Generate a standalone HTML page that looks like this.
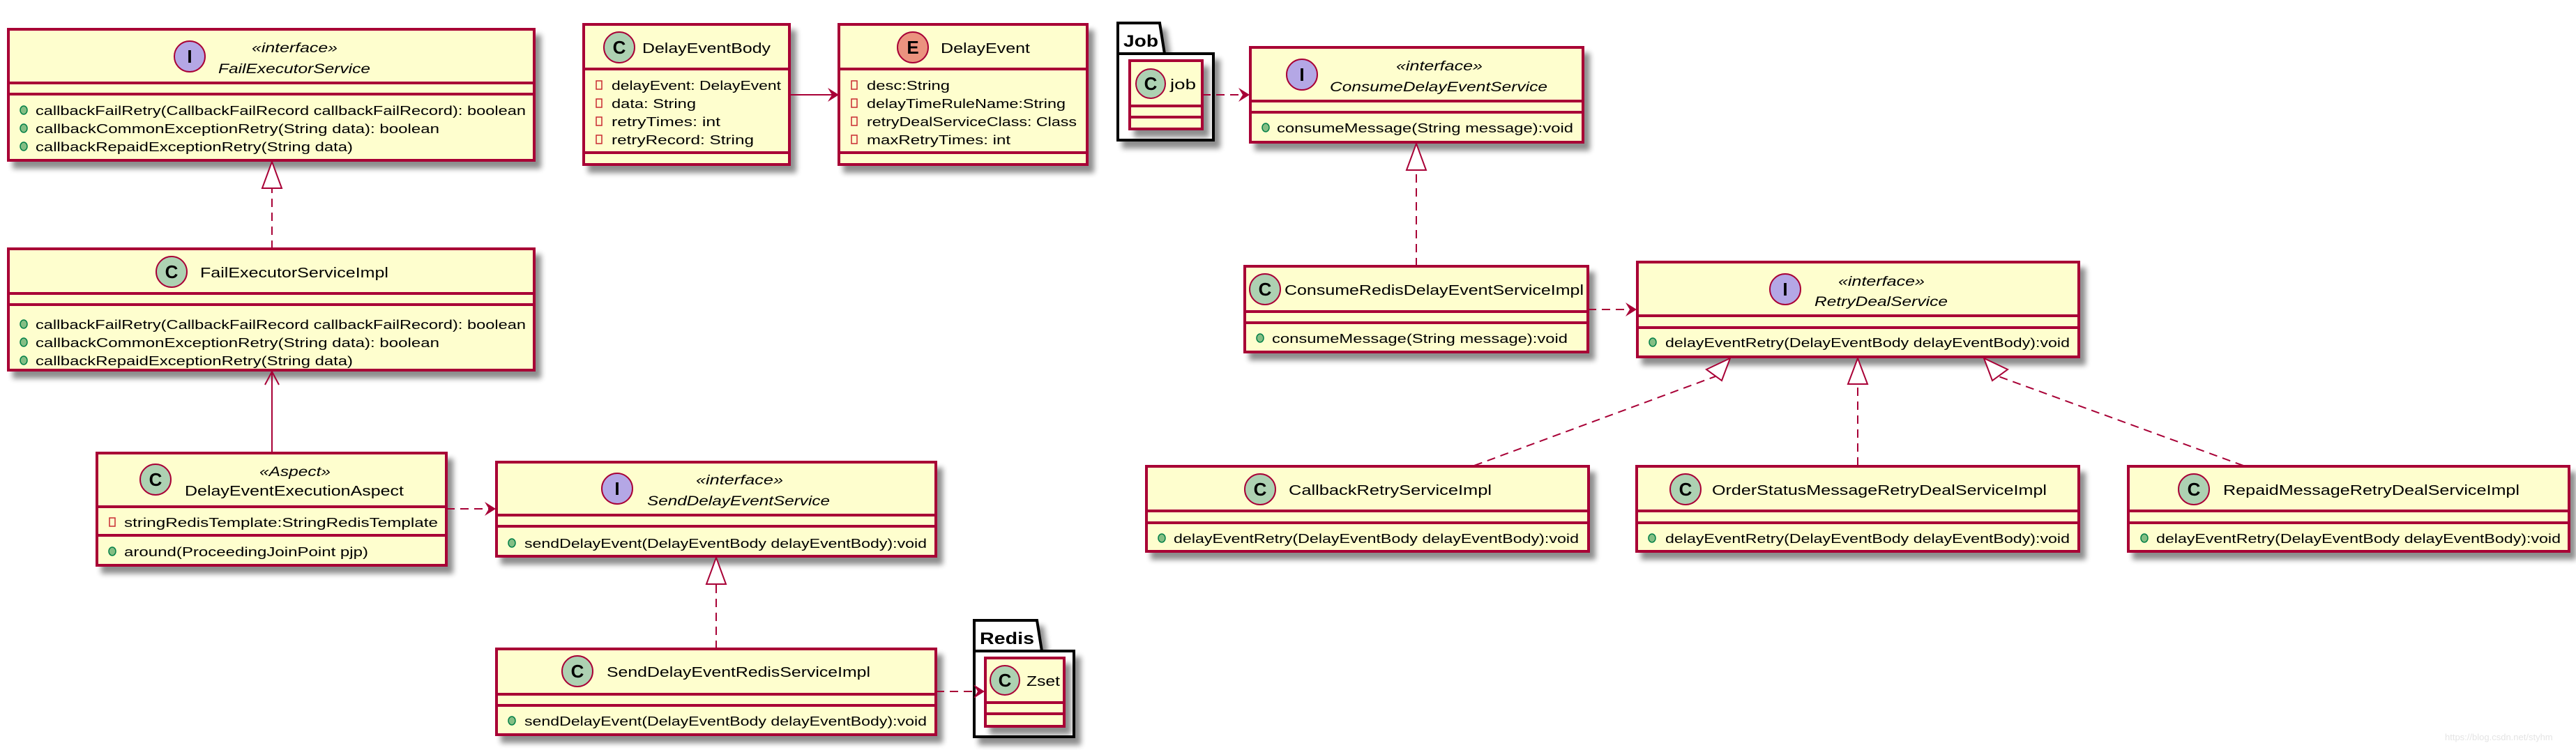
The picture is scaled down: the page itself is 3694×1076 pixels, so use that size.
<!DOCTYPE html>
<html><head><meta charset="utf-8"><style>
html,body{margin:0;padding:0;background:#fff;}
svg{display:block;}
text{font-family:"Liberation Sans",sans-serif;fill:#000;}
.m{font-size:18px;}
.n{font-size:20px;}
.s{font-size:19px;font-style:italic;}
.b{fill:#FEFECE;stroke:#A80036;stroke-width:4;}
.l{stroke:#A80036;stroke-width:4;}
.c{stroke:#A80036;stroke-width:2;fill:none;}
.d{stroke:#A80036;stroke-width:2;fill:none;stroke-dasharray:12,8;}
.ic{stroke:#A80036;stroke-width:2;}
.lt{font-size:26px;font-weight:bold;font-family:"Liberation Mono",monospace;}
.pub{fill:#84BE84;stroke:#038048;stroke-width:1.5;}
.pri{fill:none;stroke:#C82930;stroke-width:1.5;}
</style></head><body>
<svg width="3694" height="1076" viewBox="0 0 3694 1076" xmlns="http://www.w3.org/2000/svg">
<defs>
<filter id="sh" x="-5%" y="-5%" width="115%" height="130%">
<feGaussianBlur in="SourceAlpha" stdDeviation="4"/>
<feOffset dx="8" dy="10" result="o"/>
<feComponentTransfer><feFuncA type="linear" slope="0.45"/></feComponentTransfer>
<feMerge><feMergeNode/><feMergeNode in="SourceGraphic"/></feMerge>
</filter>
</defs>

<!-- Packages -->
<g filter="url(#sh)">
<path d="M1603,77 L1603,33 L1663,33 L1670,77 Z" fill="#fff" stroke="#000" stroke-width="4"/>
<rect x="1603" y="77" width="137" height="124" fill="#fff" stroke="#000" stroke-width="4"/>
<path d="M1397,934 L1397,890 L1487,890 L1494,934 Z" fill="#fff" stroke="#000" stroke-width="4"/>
<rect x="1397" y="934" width="143" height="123" fill="#fff" stroke="#000" stroke-width="4"/>
</g>
<text x="1611" y="67" style="font-size:24px;font-weight:bold" textLength="50" lengthAdjust="spacingAndGlyphs">Job</text>
<text x="1405" y="924" style="font-size:24px;font-weight:bold" textLength="78" lengthAdjust="spacingAndGlyphs">Redis</text>

<!-- Boxes -->
<g filter="url(#sh)">
<rect class="b" x="12" y="42" width="754" height="188"/>
<rect class="b" x="837" y="35" width="295" height="201"/>
<rect class="b" x="1203" y="35" width="356" height="201"/>
<rect class="b" x="12" y="357" width="754" height="174"/>
<rect class="b" x="139" y="650" width="501" height="161"/>
<rect class="b" x="712" y="663" width="630" height="135"/>
<rect class="b" x="712" y="931" width="630" height="123"/>
<rect class="b" x="1413" y="944" width="113" height="98"/>
<rect class="b" x="1620" y="87" width="104" height="98"/>
<rect class="b" x="1793" y="68" width="477" height="136"/>
<rect class="b" x="1785" y="382" width="492" height="123"/>
<rect class="b" x="2348" y="376" width="633" height="136"/>
<rect class="b" x="1644" y="669" width="634" height="122"/>
<rect class="b" x="2347" y="669" width="634" height="122"/>
<rect class="b" x="3052" y="669" width="632" height="122"/>
</g>
<!-- compartment lines -->
<g class="l">
<line x1="12" y1="119" x2="766" y2="119"/><line x1="12" y1="135" x2="766" y2="135"/>
<line x1="837" y1="99" x2="1132" y2="99"/><line x1="837" y1="219" x2="1132" y2="219"/>
<line x1="1203" y1="99" x2="1559" y2="99"/><line x1="1203" y1="219" x2="1559" y2="219"/>
<line x1="12" y1="421" x2="766" y2="421"/><line x1="12" y1="437" x2="766" y2="437"/>
<line x1="139" y1="727" x2="640" y2="727"/><line x1="139" y1="768" x2="640" y2="768"/>
<line x1="712" y1="739" x2="1342" y2="739"/><line x1="712" y1="755" x2="1342" y2="755"/>
<line x1="712" y1="996" x2="1342" y2="996"/><line x1="712" y1="1012" x2="1342" y2="1012"/>
<line x1="1413" y1="1008" x2="1526" y2="1008"/><line x1="1413" y1="1024" x2="1526" y2="1024"/>
<line x1="1620" y1="152" x2="1724" y2="152"/><line x1="1620" y1="168" x2="1724" y2="168"/>
<line x1="1793" y1="145" x2="2270" y2="145"/><line x1="1793" y1="161" x2="2270" y2="161"/>
<line x1="1785" y1="447" x2="2277" y2="447"/><line x1="1785" y1="463" x2="2277" y2="463"/>
<line x1="2348" y1="453" x2="2981" y2="453"/><line x1="2348" y1="470" x2="2981" y2="470"/>
<line x1="1644" y1="733" x2="2278" y2="733"/><line x1="1644" y1="750" x2="2278" y2="750"/>
<line x1="2347" y1="733" x2="2981" y2="733"/><line x1="2347" y1="750" x2="2981" y2="750"/>
<line x1="3052" y1="733" x2="3684" y2="733"/><line x1="3052" y1="750" x2="3684" y2="750"/>
</g>

<!-- Icons -->
<g class="ic">
<circle cx="272" cy="81" r="22" fill="#B4A7E5"/>
<circle cx="888" cy="68" r="22" fill="#ADD1B2"/>
<circle cx="1309" cy="68" r="22" fill="#EB937F"/>
<circle cx="246" cy="390" r="22" fill="#ADD1B2"/>
<circle cx="223" cy="688" r="22" fill="#ADD1B2"/>
<circle cx="885" cy="701" r="22" fill="#B4A7E5"/>
<circle cx="828" cy="963" r="22" fill="#ADD1B2"/>
<circle cx="1441" cy="976" r="21" fill="#ADD1B2"/>
<circle cx="1650" cy="120" r="21" fill="#ADD1B2"/>
<circle cx="1867" cy="107" r="22" fill="#B4A7E5"/>
<circle cx="1814" cy="415" r="22" fill="#ADD1B2"/>
<circle cx="2560" cy="415" r="22" fill="#B4A7E5"/>
<circle cx="1807" cy="702" r="22" fill="#ADD1B2"/>
<circle cx="2417" cy="702" r="22" fill="#ADD1B2"/>
<circle cx="3146" cy="702" r="22" fill="#ADD1B2"/>
</g>
<g class="lt" text-anchor="middle">
<text x="272" y="90">I</text><text x="888" y="77">C</text><text x="1309" y="77">E</text>
<text x="246" y="399">C</text><text x="223" y="697">C</text><text x="885" y="710">I</text>
<text x="828" y="972">C</text><text x="1441" y="985">C</text><text x="1650" y="129">C</text>
<text x="1867" y="116">I</text><text x="1814" y="424">C</text><text x="2560" y="424">I</text>
<text x="1807" y="711">C</text><text x="2417" y="711">C</text><text x="3146" y="711">C</text>
</g>

<!-- Header text -->
<g lengthAdjust="spacingAndGlyphs">
<text class="s" x="361" y="75" textLength="123" lengthAdjust="spacingAndGlyphs">«interface»</text>
<text class="s" x="313" y="105" textLength="218" lengthAdjust="spacingAndGlyphs">FailExecutorService</text>
<text class="n" x="921" y="76" textLength="184" lengthAdjust="spacingAndGlyphs">DelayEventBody</text>
<text class="n" x="1349" y="76" textLength="128" lengthAdjust="spacingAndGlyphs">DelayEvent</text>
<text class="n" x="287" y="398" textLength="270" lengthAdjust="spacingAndGlyphs">FailExecutorServiceImpl</text>
<text class="s" x="372" y="683" textLength="102" lengthAdjust="spacingAndGlyphs">«Aspect»</text>
<text class="n" x="265" y="711" textLength="314" lengthAdjust="spacingAndGlyphs">DelayEventExecutionAspect</text>
<text class="s" x="998" y="695" textLength="125" lengthAdjust="spacingAndGlyphs">«interface»</text>
<text class="s" x="928" y="725" textLength="262" lengthAdjust="spacingAndGlyphs">SendDelayEventService</text>
<text class="n" x="870" y="971" textLength="378" lengthAdjust="spacingAndGlyphs">SendDelayEventRedisServiceImpl</text>
<text class="n" x="1472" y="984" textLength="48" lengthAdjust="spacingAndGlyphs">Zset</text>
<text class="n" x="1678" y="128" textLength="37" lengthAdjust="spacingAndGlyphs">job</text>
<text class="s" x="2002" y="101" textLength="124" lengthAdjust="spacingAndGlyphs">«interface»</text>
<text class="s" x="1907" y="131" textLength="312" lengthAdjust="spacingAndGlyphs">ConsumeDelayEventService</text>
<text class="n" x="1842" y="423" textLength="429" lengthAdjust="spacingAndGlyphs">ConsumeRedisDelayEventServiceImpl</text>
<text class="s" x="2636" y="410" textLength="124" lengthAdjust="spacingAndGlyphs">«interface»</text>
<text class="s" x="2602" y="439" textLength="191" lengthAdjust="spacingAndGlyphs">RetryDealService</text>
<text class="n" x="1848" y="710" textLength="291" lengthAdjust="spacingAndGlyphs">CallbackRetryServiceImpl</text>
<text class="n" x="2455" y="710" textLength="480" lengthAdjust="spacingAndGlyphs">OrderStatusMessageRetryDealServiceImpl</text>
<text class="n" x="3188" y="710" textLength="425" lengthAdjust="spacingAndGlyphs">RepaidMessageRetryDealServiceImpl</text>
</g>

<!-- Members: public dots -->
<g class="pub">
<ellipse cx="34" cy="158" rx="5" ry="6"/><ellipse cx="34" cy="184" rx="5" ry="6"/><ellipse cx="34" cy="210" rx="5" ry="6"/>
<ellipse cx="34" cy="465" rx="5" ry="6"/><ellipse cx="34" cy="491" rx="5" ry="6"/><ellipse cx="34" cy="517" rx="5" ry="6"/>
<ellipse cx="161" cy="791" rx="5" ry="6"/>
<ellipse cx="734" cy="779" rx="5" ry="6"/>
<ellipse cx="734" cy="1034" rx="5" ry="6"/>
<ellipse cx="1815" cy="183" rx="5" ry="6"/>
<ellipse cx="1807" cy="485" rx="5" ry="6"/>
<ellipse cx="2370" cy="491" rx="5" ry="6"/>
<ellipse cx="1666" cy="772" rx="5" ry="6"/>
<ellipse cx="2369" cy="772" rx="5" ry="6"/>
<ellipse cx="3075" cy="772" rx="5" ry="6"/>
</g>
<g class="pri">
<rect x="855" y="116" width="8" height="12"/><rect x="855" y="142" width="8" height="12"/><rect x="855" y="168" width="8" height="12"/><rect x="855" y="194" width="8" height="12"/>
<rect x="1221" y="116" width="8" height="12"/><rect x="1221" y="142" width="8" height="12"/><rect x="1221" y="168" width="8" height="12"/><rect x="1221" y="194" width="8" height="12"/>
<rect x="157" y="743" width="8" height="12"/>
</g>
<g class="m">
<text x="51" y="165" textLength="703" lengthAdjust="spacingAndGlyphs">callbackFailRetry(CallbackFailRecord callbackFailRecord): boolean</text>
<text x="51" y="191" textLength="579" lengthAdjust="spacingAndGlyphs">callbackCommonExceptionRetry(String data): boolean</text>
<text x="51" y="217" textLength="455" lengthAdjust="spacingAndGlyphs">callbackRepaidExceptionRetry(String data)</text>
<text x="51" y="472" textLength="703" lengthAdjust="spacingAndGlyphs">callbackFailRetry(CallbackFailRecord callbackFailRecord): boolean</text>
<text x="51" y="498" textLength="579" lengthAdjust="spacingAndGlyphs">callbackCommonExceptionRetry(String data): boolean</text>
<text x="51" y="524" textLength="455" lengthAdjust="spacingAndGlyphs">callbackRepaidExceptionRetry(String data)</text>
<text x="877" y="129" textLength="243" lengthAdjust="spacingAndGlyphs">delayEvent: DelayEvent</text>
<text x="877" y="155" textLength="121" lengthAdjust="spacingAndGlyphs">data: String</text>
<text x="877" y="181" textLength="156" lengthAdjust="spacingAndGlyphs">retryTimes: int</text>
<text x="877" y="207" textLength="204" lengthAdjust="spacingAndGlyphs">retryRecord: String</text>
<text x="1243" y="129" textLength="119" lengthAdjust="spacingAndGlyphs">desc:String</text>
<text x="1243" y="155" textLength="285" lengthAdjust="spacingAndGlyphs">delayTimeRuleName:String</text>
<text x="1243" y="181" textLength="301" lengthAdjust="spacingAndGlyphs">retryDealServiceClass: Class</text>
<text x="1243" y="207" textLength="206" lengthAdjust="spacingAndGlyphs">maxRetryTimes: int</text>
<text x="178" y="756" textLength="450" lengthAdjust="spacingAndGlyphs">stringRedisTemplate:StringRedisTemplate</text>
<text x="178" y="798" textLength="350" lengthAdjust="spacingAndGlyphs">around(ProceedingJoinPoint pjp)</text>
<text x="752" y="786" textLength="577" lengthAdjust="spacingAndGlyphs">sendDelayEvent(DelayEventBody delayEventBody):void</text>
<text x="752" y="1041" textLength="577" lengthAdjust="spacingAndGlyphs">sendDelayEvent(DelayEventBody delayEventBody):void</text>
<text x="1831" y="190" textLength="425" lengthAdjust="spacingAndGlyphs">consumeMessage(String message):void</text>
<text x="1824" y="492" textLength="424" lengthAdjust="spacingAndGlyphs">consumeMessage(String message):void</text>
<text x="2388" y="498" textLength="580" lengthAdjust="spacingAndGlyphs">delayEventRetry(DelayEventBody delayEventBody):void</text>
<text x="1683" y="779" textLength="581" lengthAdjust="spacingAndGlyphs">delayEventRetry(DelayEventBody delayEventBody):void</text>
<text x="2388" y="779" textLength="580" lengthAdjust="spacingAndGlyphs">delayEventRetry(DelayEventBody delayEventBody):void</text>
<text x="3092" y="779" textLength="580" lengthAdjust="spacingAndGlyphs">delayEventRetry(DelayEventBody delayEventBody):void</text>
</g>

<!-- Connectors -->
<!-- DelayEventBody -> DelayEvent -->
<line class="c" x1="1132" y1="136" x2="1200" y2="136"/>
<polygon points="1203,136 1187,126 1193,136 1187,146" fill="#A80036"/>
<!-- Impl realizes FailExecutorService -->
<line class="d" x1="390" y1="357" x2="390" y2="270"/>
<polygon points="390,232 376,270 404,270" fill="#fff" stroke="#A80036" stroke-width="2"/>
<!-- Aspect -> Impl -->
<line class="c" x1="390" y1="650" x2="390" y2="534"/>
<polyline points="380,552 390,533 400,552" fill="none" stroke="#A80036" stroke-width="2"/>
<!-- Aspect -> SendDelayEventService -->
<line class="d" x1="640" y1="730" x2="706" y2="730"/>
<polygon points="711,730 695,720 701,730 695,740" fill="#A80036"/>
<!-- SendRedis realizes SendDelay -->
<line class="d" x1="1027" y1="931" x2="1027" y2="838"/>
<polygon points="1027,800 1013,838 1041,838" fill="#fff" stroke="#A80036" stroke-width="2"/>
<!-- SendRedis -> Zset -->
<line class="d" x1="1342" y1="992" x2="1407" y2="992"/>
<polygon points="1412,992 1396,982 1402,992 1396,1002" fill="#A80036"/>
<!-- job -> ConsumeDelay -->
<line class="d" x1="1724" y1="136" x2="1787" y2="136"/>
<polygon points="1792,136 1776,126 1782,136 1776,146" fill="#A80036"/>
<!-- ConsumeRedis realizes ConsumeDelay -->
<line class="d" x1="2031" y1="382" x2="2031" y2="244"/>
<polygon points="2031,206 2017,244 2045,244" fill="#fff" stroke="#A80036" stroke-width="2"/>
<!-- ConsumeRedis -> RetryDeal -->
<line class="d" x1="2277" y1="444" x2="2342" y2="444"/>
<polygon points="2347,444 2331,434 2337,444 2331,454" fill="#A80036"/>
<!-- bottom realizations -->
<line class="d" x1="2114" y1="668" x2="2460" y2="540"/>
<polygon points="2481,514 2447,530 2469,546" fill="#fff" stroke="#A80036" stroke-width="2"/>
<line class="d" x1="2664" y1="668" x2="2664" y2="551"/>
<polygon points="2664,514 2650,551 2678,551" fill="#fff" stroke="#A80036" stroke-width="2"/>
<line class="d" x1="3217" y1="668" x2="2866" y2="540"/>
<polygon points="2845,514 2857,546 2879,530" fill="#fff" stroke="#A80036" stroke-width="2"/>

<text x="3506" y="1062" style="font-size:13px;fill:#e4e4e4">https://blog.csdn.net/styhm</text>
</svg>
</body></html>
